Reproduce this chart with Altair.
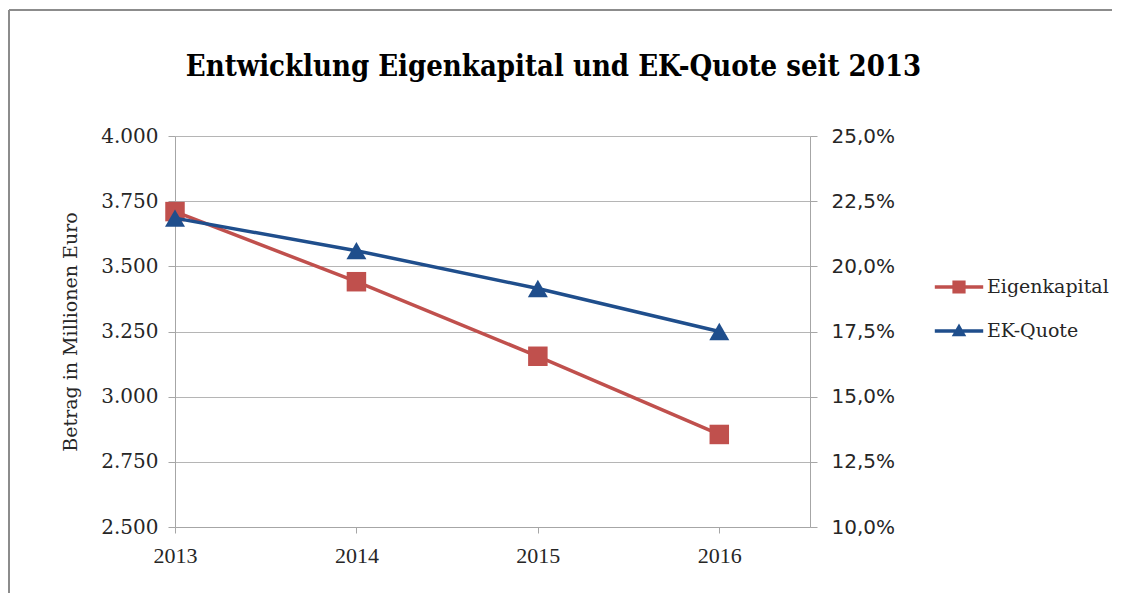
import altair as alt
import pandas as pd

years = [2013, 2014, 2015, 2016]
eigenkapital = [3710, 3441, 3155, 2855]
ek_quote = [21.85, 20.6, 19.15, 17.5]
series = ["Eigenkapital", "EK-Quote"]
colors = ["#c0504d", "#1f4e8c"]
left_ticks = [2500, 2750, 3000, 3250, 3500, 3750, 4000]
right_ticks = [10, 12.5, 15, 17.5, 20, 22.5, 25]
title_text = "Entwicklung Eigenkapital und EK-Quote seit 2013"
y_title = "Betrag in Millionen Euro"

df_ek = pd.DataFrame({"Jahr": years, "Wert": eigenkapital, "Reihe": series[0]})
df_q = pd.DataFrame({"Jahr": years, "Wert": ek_quote, "Reihe": series[1]})
df_one = pd.DataFrame({"a": [0]})

AX_COLOR = "#a6a6a6"
GRID_COLOR = "#b5b5b5"
TXT = "#262626"

x_enc = alt.X(
    "Jahr:Q",
    scale=alt.Scale(domain=[2013, 2016.5], nice=False, zero=False),
    axis=alt.Axis(values=years, format="d", title=None, grid=False,
                  domainColor=AX_COLOR, tickColor=AX_COLOR, tickSize=6,
                  labelFont="Liberation Serif", labelFontSize=22,
                  labelColor=TXT, labelPadding=12, labelFlush=False),
)

sq_path = "M-1.1,-0.08H1.1V0.08H-1.1Z M-0.3,-0.3H0.3V0.3H-0.3Z"
tri_path = "M-1.1,-0.08H1.1V0.08H-1.1Z M0,-0.34L0.33,0.24H-0.33Z"


def make_legend(sym, ly, col):
    return alt.Legend(
        title=None, orient="none", legendX=762, legendY=ly, padding=0,
        symbolSize=1936, symbolType=sym, rowPadding=0, labelOffset=6,
        labelFont="DejaVu Serif", labelFontSize=19, labelColor=TXT,
        symbolStrokeWidth=0, symbolOpacity=1, symbolFillColor=col,
        symbolStrokeColor=col,
    )


left_y = alt.Y(
    "Wert:Q",
    scale=alt.Scale(domain=[2500, 4000], nice=False, zero=False),
    axis=alt.Axis(values=left_ticks, title=y_title, orient="left",
                  labelExpr="replace(format(datum.value, ',.0f'), ',', '.')",
                  grid=True, gridColor=GRID_COLOR, gridWidth=1,
                  domainColor=AX_COLOR, tickColor=AX_COLOR, tickSize=7,
                  labelFont="DejaVu Serif", labelFontSize=20, labelColor=TXT,
                  labelPadding=10, titleFont="DejaVu Serif", titleFontSize=19,
                  titleFontWeight="normal", titleColor=TXT, titlePadding=20),
)

right_y = alt.Y(
    "Wert:Q",
    scale=alt.Scale(domain=[10, 25], nice=False, zero=False),
    axis=alt.Axis(values=right_ticks, title=None, orient="right",
                  labelExpr="replace(format(datum.value, '.1f'), '.', ',') + '%'",
                  grid=False, domainColor=AX_COLOR, tickColor=AX_COLOR, tickSize=7,
                  labelFont="DejaVu Sans", labelFontSize=20, labelColor=TXT,
                  labelPadding=14),
)

ek_scale = alt.Scale(domain=[series[0]], range=[colors[0]])
q_scale = alt.Scale(domain=[series[1]], range=[colors[1]])
ek_leg = make_legend(sq_path, 129, colors[0])
q_leg = make_legend(tri_path, 173, colors[1])

ek_line = alt.Chart(df_ek).mark_line(strokeWidth=3.5).encode(
    x=x_enc, y=left_y, color=alt.Color("Reihe:N", scale=ek_scale, legend=ek_leg))
ek_pts = alt.Chart(df_ek).mark_point(filled=True, size=380, opacity=1, shape="square").encode(
    x=x_enc, y=left_y,
    color=alt.Color("Reihe:N", scale=ek_scale, legend=ek_leg))
q_line = alt.Chart(df_q).mark_line(strokeWidth=3.5).encode(
    x=x_enc, y=right_y, color=alt.Color("Reihe:N", scale=q_scale, legend=q_leg))
q_pts = alt.Chart(df_q).mark_point(filled=True, size=400, opacity=1, shape="triangle-up").encode(
    x=x_enc, y=right_y,
    color=alt.Color("Reihe:N", scale=q_scale, legend=q_leg))

frame_top = alt.Chart(df_one).mark_rule(color="#8c8c8c", strokeWidth=2).encode(
    x=alt.value(-166), x2=alt.value(945), y=alt.value(-126), y2=alt.value(-126))
frame_left = alt.Chart(df_one).mark_rule(color="#8c8c8c", strokeWidth=2).encode(
    x=alt.value(-166), x2=alt.value(-166), y=alt.value(-126), y2=alt.value(470))

chart = alt.layer(
    frame_top, frame_left,
    alt.layer(ek_line, ek_pts),
    alt.layer(q_line, q_pts),
).resolve_scale(y="independent", color="independent").properties(
    width=635, height=391,
    title=alt.TitleParams(title_text, font="DejaVu Serif Condensed", fontSize=29,
                          fontWeight="bold", color="#000000", anchor="middle",
                          frame="group", dx=61, offset=0, dy=96,
                          baseline="alphabetic"),
    autosize=alt.AutoSizeParams(type="none"),
    padding={"left": 167, "top": 128, "right": 302, "bottom": 66},
).configure_view(stroke=None)

chart.save("out.html", embed_options={"renderer": "svg", "actions": False})
